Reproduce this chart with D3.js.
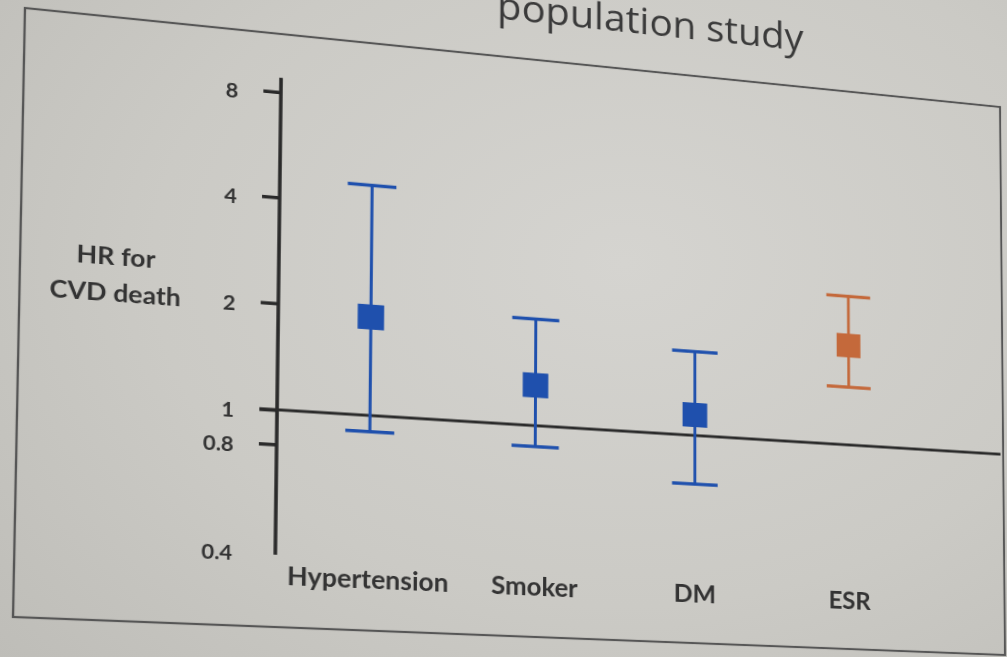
<!DOCTYPE html>
<html><head><meta charset="utf-8">
<script src="https://cdn.jsdelivr.net/npm/d3@7"></script>
<style>
html,body{margin:0;padding:0;}
body{width:1007px;height:657px;overflow:hidden;position:relative;
  background: radial-gradient(ellipse 85% 95% at 62% 40%, #d5d4d0 0%, #cbcac5 55%, #bdbcb7 100%);}
#slide{position:absolute;left:0;top:0;transform-origin:0 0;filter:blur(0.5px);}
text{font-family: Lato, "Open Sans", sans-serif;}
</style></head><body>
<div id="slide"></div>
<script>
// ---- data ----
const categories = ["Hypertension", "Smoker", "DM", "ESR"];
const hrValues   = [1.91, 1.31, 1.15, 1.99];
const ciLower    = [0.90, 0.87, 0.72, 1.49];
const ciUpper    = [4.56, 2.04, 1.77, 2.80];
const yTicks     = [0.4, 0.8, 1, 2, 4, 8];
const highlighted = ["ESR"];
const yTitleLines = ["HR for", "CVD death"];
const titleText = "population study";

// ---- photo perspective (slide box corners as seen in the photo) ----
const OX = 100, OY = 120, W = 1000, H = 610;
const svgW = OX + W + 80, svgH = OY + H + 80;
const quad = [[25, 8], [1000, 107], [1005, 655], [13, 617]];
const flat = [[OX, OY], [OX + W, OY], [OX + W, OY + H], [OX, OY + H]];

function solveHomography(src, dst) {
  const A = [], b = [];
  for (let i = 0; i < 4; i++) {
    const [u, v] = src[i], [x, y] = dst[i];
    A.push([u, v, 1, 0, 0, 0, -u * x, -v * x]); b.push(x);
    A.push([0, 0, 0, u, v, 1, -u * y, -v * y]); b.push(y);
  }
  const n = 8;
  for (let c = 0; c < n; c++) {
    let p = c;
    for (let r = c + 1; r < n; r++) if (Math.abs(A[r][c]) > Math.abs(A[p][c])) p = r;
    [A[c], A[p]] = [A[p], A[c]]; [b[c], b[p]] = [b[p], b[c]];
    for (let r = 0; r < n; r++) {
      if (r === c) continue;
      const f = A[r][c] / A[c][c];
      for (let k = c; k < n; k++) A[r][k] -= f * A[c][k];
      b[r] -= f * b[c];
    }
  }
  return b.map((v, i) => v / A[i][i]);
}
const Hm = solveHomography(flat, quad);
const [ha, hb, hc, hd, he, hf, hg, hh] = Hm;
const M = [[ha, hb, hc], [hd, he, hf], [hg, hh, 1]];
function inv3(m) {
  const [[a, b, c], [d, e, f], [g, h, i]] = m;
  const A = e * i - f * h, B = -(d * i - f * g), C = d * h - e * g;
  const det = a * A + b * B + c * C;
  return [
    [A / det, -(b * i - c * h) / det, (b * f - c * e) / det],
    [B / det, (a * i - c * g) / det, -(a * f - c * d) / det],
    [C / det, -(a * h - b * g) / det, (a * e - b * d) / det]
  ];
}
const Mi = inv3(M);
function toFlat(x, y) {
  const u = Mi[0][0] * x + Mi[0][1] * y + Mi[0][2];
  const v = Mi[1][0] * x + Mi[1][1] * y + Mi[1][2];
  const w = Mi[2][0] * x + Mi[2][1] * y + Mi[2][2];
  return [u / w, v / w];
}

const slide = d3.select("#slide")
  .style("width", svgW + "px").style("height", svgH + "px")
  .style("transform", `matrix3d(${ha},${hd},0,${hg},${hb},${he},0,${hh},0,0,1,0,${hc},${hf},0,1)`);

const svg = slide.append("svg").attr("width", svgW).attr("height", svgH);

// ---- layout anchors measured on the photo (screen px) ----
const axisX = toFlat(279, 250)[0];
const yOne = toFlat(279, 410)[1];
const yEight = toFlat(279, 92)[1];
const xFirst = toFlat(370, 416)[0];
const xLast = toFlat(849, 447)[0];
const labelY = toFlat(377, 589)[1];
const yTitlePos = toFlat(116, 265);
const titlePos = toFlat(497, 19);

const y = d3.scaleLog().domain([1, 8]).range([yOne, yEight]);
const x = d3.scalePoint().domain(categories).range([xFirst, xLast]);
const color = c => highlighted.includes(c) ? "#c4693b" : "#1f50ad";

const ink = "#2a2a2a", textInk = "#333333";

// slide box
svg.append("rect").attr("x", OX).attr("y", OY).attr("width", W).attr("height", H)
  .attr("fill", "none").attr("stroke", "#565656").attr("stroke-width", 2.2);

// title (second line of the slide title)
svg.append("text").attr("x", titlePos[0]).attr("y", titlePos[1])
  .style("font-size", "41px").style("font-family", "'Open Sans', Lato, sans-serif")
  .attr("fill", "#3a3a3a").text(titleText);

// y axis ticks + labels
const yAxis = d3.axisLeft(y).tickValues(yTicks).tickFormat(d3.format("")).tickSize(17).tickPadding(24);
const gAxis = svg.append("g").attr("transform", `translate(${axisX},0)`).call(yAxis);
gAxis.select(".domain").remove();
gAxis.selectAll(".tick line").attr("stroke", ink).attr("stroke-width", 3.5)
  .filter(d => d === yTicks[0]).remove();
gAxis.selectAll(".tick text").attr("fill", textInk).attr("font-size", 21).attr("dy", "0.45em")
  .attr("font-weight", 700);

// axis line
svg.append("line").attr("x1", axisX).attr("x2", axisX)
  .attr("y1", y(8) - 15).attr("y2", y(yTicks[0]) + 3)
  .attr("stroke", ink).attr("stroke-width", 3.5);

// reference line at HR = 1
svg.append("line").attr("x1", axisX - 17).attr("x2", OX + W - 3)
  .attr("y1", y(1)).attr("y2", y(1))
  .attr("stroke", ink).attr("stroke-width", 3);

// y title
const yt = svg.append("text").attr("x", yTitlePos[0]).attr("y", yTitlePos[1])
  .attr("text-anchor", "middle").attr("font-size", 25).attr("font-weight", 700).attr("fill", textInk);
yTitleLines.forEach((l, i) => yt.append("tspan").attr("x", yTitlePos[0]).attr("dy", i === 0 ? 0 : 37).text(l));

// error bars
const capW = 48, sq = 26;
const rows = categories.map((c, i) => ({c, hr: hrValues[i], lo: ciLower[i], hi: ciUpper[i]}));
const g = svg.append("g").selectAll("g").data(rows).join("g");
g.append("line").attr("x1", d => x(d.c)).attr("x2", d => x(d.c))
  .attr("y1", d => y(d.lo)).attr("y2", d => y(d.hi))
  .attr("stroke", d => color(d.c)).attr("stroke-width", 3);
g.append("line").attr("x1", d => x(d.c) - capW / 2).attr("x2", d => x(d.c) + capW / 2)
  .attr("y1", d => y(d.hi)).attr("y2", d => y(d.hi))
  .attr("stroke", d => color(d.c)).attr("stroke-width", 3.5);
g.append("line").attr("x1", d => x(d.c) - capW / 2).attr("x2", d => x(d.c) + capW / 2)
  .attr("y1", d => y(d.lo)).attr("y2", d => y(d.lo))
  .attr("stroke", d => color(d.c)).attr("stroke-width", 3.5);
g.append("rect").attr("x", d => x(d.c) - sq / 2).attr("y", d => y(d.hr) - sq / 2)
  .attr("width", sq).attr("height", sq).attr("fill", d => color(d.c));

// category labels
svg.append("g").selectAll("text").data(categories).join("text")
  .attr("x", d => x(d)).attr("y", labelY).attr("text-anchor", "middle")
  .attr("font-size", 26).attr("font-weight", 700).attr("fill", textInk).text(d => d);
</script>
</body></html>
